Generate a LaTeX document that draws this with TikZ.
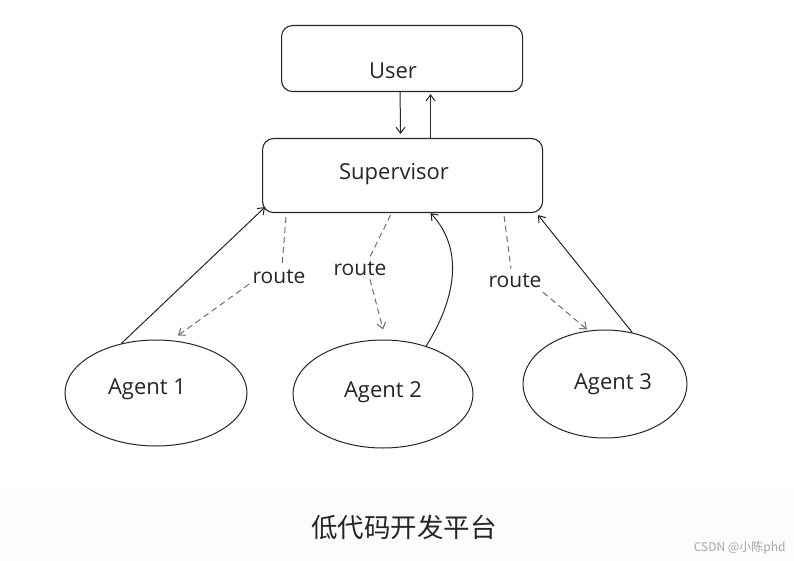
\documentclass[tikz,border=0pt]{standalone}
\usepackage{fontspec}
\setmainfont{Open Sans}
\newfontfamily\cjk{Noto Sans CJK SC}
\usetikzlibrary{arrows.meta,shapes.geometric}
\definecolor{ink}{HTML}{262626}
\definecolor{dash}{HTML}{707070}
\definecolor{strip}{HTML}{FCFCFC}
\begin{document}
\begin{tikzpicture}[x=1pt,y=-1pt,
  box/.style={draw=ink,line width=1.1pt,rounded corners=11pt,inner sep=0pt},
  agent/.style={draw=ink,line width=1pt,ellipse,inner sep=0pt},
  lbl/.style={font=\fontsize{22}{25}\selectfont,text=ink},
  rlbl/.style={font=\fontsize{21}{24}\selectfont,text=ink,inner sep=1pt},
  solidarrow/.style={draw=ink,line width=1pt,-{Straight Barb[length=6pt,width=9pt]}},
  routearrow/.style={draw=dash,line width=1pt,dash pattern=on 6pt off 4pt},
  routetip/.style={routearrow,-{Straight Barb[length=6pt,width=9pt]}}]
\useasboundingbox (0,0) rectangle (794,561);
\fill[white] (0,0) rectangle (794,488);
\fill[strip] (0,488) rectangle (794,561);
% boxes
\node[box,minimum width=241,minimum height=66,anchor=north west] (user) at (281,25) {};
\node[lbl] (usert) at (393,71) {User};
\node[box,minimum width=280,minimum height=74,anchor=north west] (sup) at (262,138) {};
\node[lbl] (supt) at (394,174) {Supervisor};
% agents
\node[agent,minimum width=182,minimum height=106] (a1) at (156,393) {};
\node[lbl] at (147,389) {Agent 1};
\node[agent,minimum width=180,minimum height=108] (a2) at (383,394) {};
\node[lbl] at (383,392) {Agent 2};
\node[agent,minimum width=164,minimum height=108] (a3) at (605,384) {};
\node[lbl] at (613,384) {Agent 3};
% route labels
\node[rlbl] (r1) at (279,277) {route};
\node[rlbl] (r2) at (360,269) {route};
\node[rlbl] (r3) at (515,281) {route};
% user <-> supervisor
\draw[solidarrow] ([xshift=-2]user.south) -- ([xshift=-2,yshift=4]sup.north);
\draw[solidarrow] ([xshift=28]sup.north) -- ([xshift=28.5,yshift=-2]user.south);
% agent -> supervisor
\draw[solidarrow] (a1.125) -- ([shift={(3,-6)}]sup.south west);
\draw[solidarrow] (a2.48) .. controls (455,300) and (465,250) .. ([xshift=28]sup.south);
\draw[solidarrow] (a3.62) -- ([shift={(-5,2)}]sup.south east);
% routes
\draw[routearrow] ([shift={(24,4)}]sup.south west) -- ([shift={(3,-3)}]r1.north);
\draw[routetip] ([shift={(-30,-1)}]r1.south) -- ([shift={(22,-4)}]a1.north);
\draw[routearrow] ([shift={(-12,2)}]sup.south) -- ([shift={(10,-4)}]r2.north);
\draw[routetip] ([shift={(10,2)}]r2.south) -- ([shift={(0,-10)}]a2.north);
\draw[routearrow] ([shift={(-39,3)}]sup.south east) -- ([shift={(-4,-4)}]r3.north);
\draw[routetip] ([shift={(28,3)}]r3.south) -- ([shift={(-18,0)}]a3.north);
% caption
\node[font=\cjk\fontsize{26.5}{30}\selectfont,text=black!85] (cap) at (404,527) {低代码开发平台};
\node[font=\cjk\fontsize{12}{14}\selectfont,text=black!35,anchor=east] (wm) at (789,548) {CSDN @小陈phd};
\end{tikzpicture}
\end{document}
